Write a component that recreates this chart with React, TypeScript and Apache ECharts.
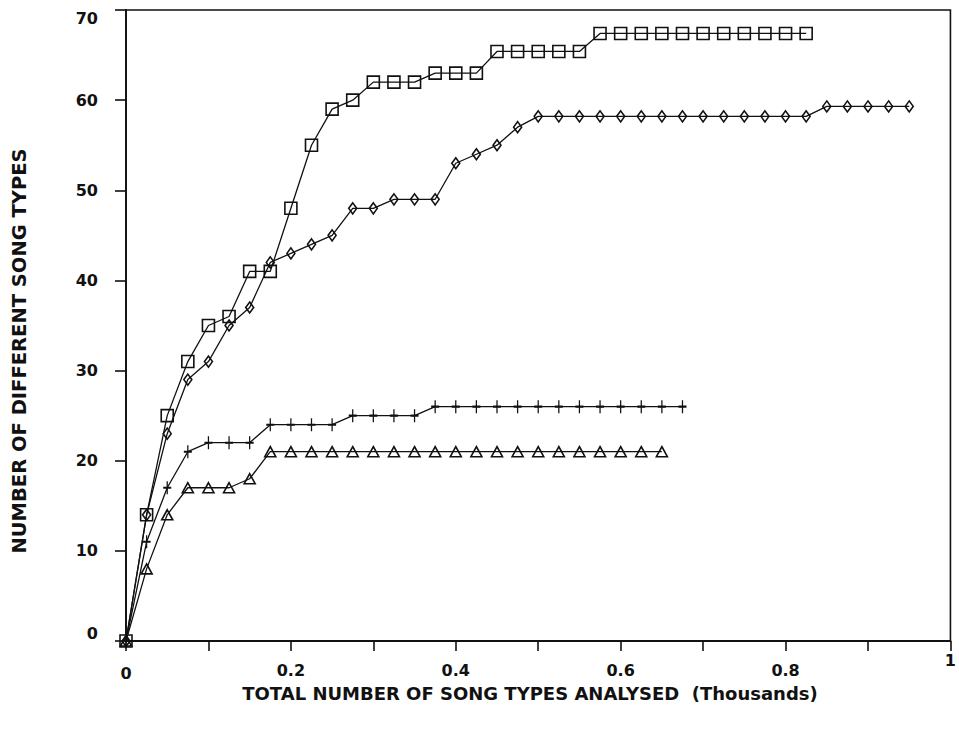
import React, { useEffect, useRef } from "react";
import * as echarts from "echarts";

// Total number of song types analysed (thousands), one sample every 25 songs
const songsAnalysed = [
  0, 0.025, 0.05, 0.075, 0.1, 0.125, 0.15, 0.175, 0.2, 0.225,
  0.25, 0.275, 0.3, 0.325, 0.35, 0.375, 0.4, 0.425, 0.45, 0.475,
  0.5, 0.525, 0.55, 0.575, 0.6, 0.625, 0.65, 0.675, 0.7, 0.725,
  0.75, 0.775, 0.8, 0.825, 0.85, 0.875, 0.9, 0.925, 0.95,
];

// Number of different song types (cumulative) per bird
const squareBird = [
  0, 14, 25, 31, 35, 36, 41, 41, 48, 55,
  59, 60, 62, 62, 62, 63, 63, 63, 65.4, 65.4,
  65.4, 65.4, 65.4, 67.4, 67.4, 67.4, 67.4, 67.4, 67.4, 67.4,
  67.4, 67.4, 67.4, 67.4,
];
const diamondBird = [
  0, 14, 23, 29, 31, 35, 37, 42, 43, 44,
  45, 48, 48, 49, 49, 49, 53, 54, 55, 57,
  58.2, 58.2, 58.2, 58.2, 58.2, 58.2, 58.2, 58.2, 58.2, 58.2,
  58.2, 58.2, 58.2, 58.2, 59.3, 59.3, 59.3, 59.3, 59.3,
];
const plusBird = [
  0, 11, 17, 21, 22, 22, 22, 24, 24, 24,
  24, 25, 25, 25, 25, 26, 26, 26, 26, 26,
  26, 26, 26, 26, 26, 26, 26, 26,
];
const triangleBird = [
  0, 8, 14, 17, 17, 17, 18, 21, 21, 21,
  21, 21, 21, 21, 21, 21, 21, 21, 21, 21,
  21, 21, 21, 21, 21, 21, 21,
];

// Axis ticks and titles
const xTicks = [0, 0.2, 0.4, 0.6, 0.8, 1];
const yTicks = [0, 10, 20, 30, 40, 50, 60, 70];
const xTitle = "TOTAL NUMBER OF SONG TYPES ANALYSED  (Thousands)";
const yTitle = "NUMBER OF DIFFERENT SONG TYPES";

const INK = "#111";
const FONT = "'DejaVu Sans', 'Liberation Sans', Arial, sans-serif";

function pair(ys: number[]) {
  return ys.map((y, i) => [songsAnalysed[i], y]);
}

export default function App() {
  const ref = useRef<HTMLDivElement>(null);

  useEffect(() => {
    if (!ref.current) return;
    const chart = echarts.init(ref.current, null, { renderer: "svg" });

    const base = {
      type: "line" as const,
      lineStyle: { color: INK, width: 1.3 },
      itemStyle: { color: "transparent", borderColor: INK, borderWidth: 1.6 },
      showSymbol: true,
      silent: true,
    };

    const labelText = { fontFamily: FONT, fontSize: 16, fontWeight: "bold" as const, color: INK };

    chart.setOption({
      animation: false,
      backgroundColor: "#ffffff",
      grid: {
        left: 126,
        right: 6,
        top: 10,
        bottom: 91,
        show: true,
        borderColor: INK,
        borderWidth: 1.6,
        containLabel: false,
      },
      xAxis: {
        type: "value",
        min: 0,
        max: 1,
        interval: 0.1,
        axisLine: { show: true, lineStyle: { color: INK, width: 1.8 } },
        axisTick: { show: true, inside: false, length: 10, lineStyle: { color: INK, width: 1.6 } },
        splitLine: { show: false },
        axisLabel: {
          margin: 11,
          ...labelText,
          formatter: (v: number) => {
            const r = Math.round(v * 10) / 10;
            const hit = xTicks.find((t) => Math.abs(t - r) < 1e-6);
            if (hit === undefined) return "";
            if (hit === 0) return "{lo|0}";
            if (hit === 1) return "{hi|1}";
            return "{n|" + String(hit) + "}";
          },
          rich: {
            n: { ...labelText, padding: [10, 0, 0, 0] },
            lo: { ...labelText, padding: [13, 0, 0, 0] },
            hi: { ...labelText, padding: [0, 0, 0, 0] },
          },
        },
      },
      yAxis: {
        type: "value",
        min: 0,
        max: 70,
        interval: 10,
        axisLine: { show: true, lineStyle: { color: INK, width: 1.8 } },
        axisTick: { show: true, inside: false, length: 11, lineStyle: { color: INK, width: 1.6 } },
        splitLine: { show: false },
        axisLabel: {
          margin: 28,
          ...labelText,
          formatter: (v: number) => {
            const hit = yTicks.find((t) => Math.abs(t - v) < 1e-6);
            if (hit === undefined) return "";
            if (hit === 0) return "{lo|0}";
            if (hit === 70) return "{hi|70}";
            return String(hit);
          },
          rich: {
            lo: { ...labelText, padding: [0, 0, 16, 0] },
            hi: { ...labelText, padding: [16, 0, 0, 0] },
          },
        },
      },
      graphic: [
        {
          type: "text",
          x: 530,
          y: 693,
          silent: true,
          style: {
            text: xTitle,
            fontFamily: FONT,
            fontSize: 18,
            fontWeight: "bold",
            fill: INK,
            textAlign: "center",
            textVerticalAlign: "middle",
          },
        },
        {
          type: "text",
          x: 19,
          y: 351,
          rotation: Math.PI / 2,
          silent: true,
          style: {
            text: yTitle,
            fontFamily: FONT,
            fontSize: 19.5,
            fontWeight: "bold",
            fill: INK,
            textAlign: "center",
            textVerticalAlign: "middle",
          },
        },
      ],
      series: [
        {
          ...base,
          name: "Bird A",
          symbol: "rect",
          symbolSize: 12,
          data: pair(squareBird),
        },
        {
          ...base,
          name: "Bird B",
          symbol: "diamond",
          symbolSize: [8, 11],
          data: pair(diamondBird),
        },
        {
          ...base,
          name: "Bird C",
          symbol: "path://M5,0L5,12M0,6L10,6",
          symbolSize: [8, 13],
          data: pair(plusBird),
        },
        {
          ...base,
          name: "Bird D",
          symbol: "triangle",
          symbolSize: [11, 10],
          data: pair(triangleBird),
        },
      ],
    });

    return () => chart.dispose();
  }, []);

  return (
    <div
      ref={ref}
      style={{ position: "absolute", left: 0, top: 0, width: 959, height: 732, background: "#fff" }}
    />
  );
}
